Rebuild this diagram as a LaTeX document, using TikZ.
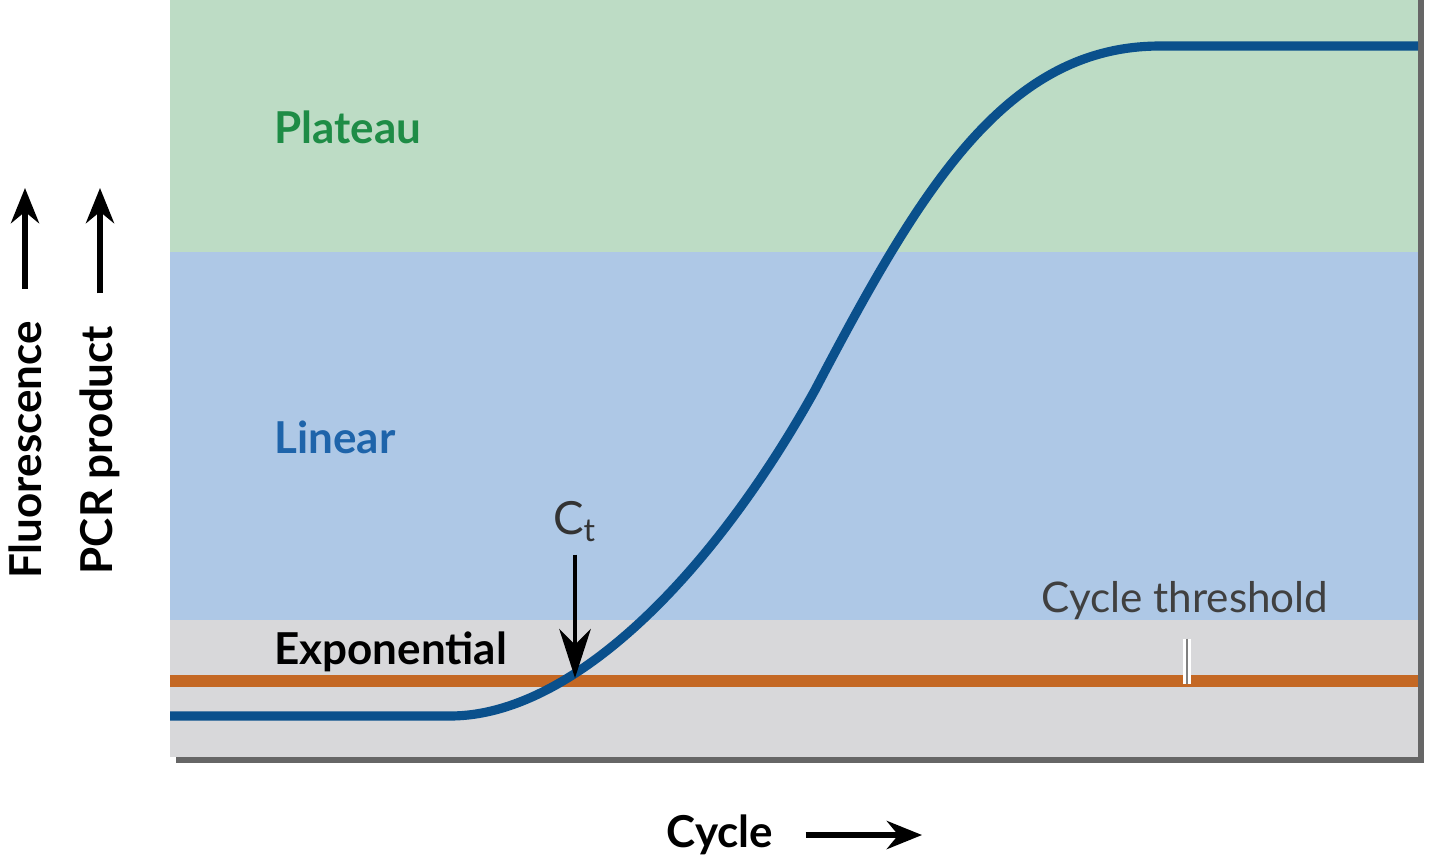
\documentclass[tikz,border=0pt]{standalone}
\usepackage{fontspec}
\setmainfont{Lato}
\usetikzlibrary{positioning,arrows.meta}
\definecolor{plateaugreen}{RGB}{189,220,197}
\definecolor{linearblue}{RGB}{174,200,230}
\definecolor{expgray}{RGB}{216,216,218}
\definecolor{curveblue}{RGB}{10,80,140}
\definecolor{threshorange}{RGB}{196,104,36}
\definecolor{labgreen}{RGB}{30,140,70}
\definecolor{labblue}{RGB}{30,100,170}
\tikzset{
  phase/.style={font=\fontsize{12.5}{15}\selectfont\bfseries, anchor=west},
  axislab/.style={font=\fontsize{12.5}{15}\selectfont\bfseries},
  axarrow/.style={-{Stealth[length=10pt,width=8pt]}, line width=1.6pt}
}
\begin{document}
\begin{tikzpicture}[x=0.01cm,y=-0.01cm]
    \useasboundingbox (0,0) rectangle (1440,866);
    %bands
    \fill[black!60] (176,0) rectangle (1424,763);
    \fill[plateaugreen] (170,0) rectangle (1418,252);
    \fill[linearblue] (170,252) rectangle (1418,620);
    \fill[expgray] (170,620) rectangle (1418,757);
    %phase labels
    \node[phase, text=labgreen] (plateau) at (262,127) {Plateau};
    \node[phase, text=labblue] (linear) at (262,437) {Linear};
    \node[phase] (expo) at (262,652) {Exponential};
    %threshold
    \coordinate (thL) at (170,681);
    \coordinate (thR) at (1418,681);
    \draw[threshorange, line width=3.4pt] (thL) -- (thR);
    \node[font=\fontsize{12}{14}\selectfont, text=black!75] (thlab) at (1185,601) {Cycle threshold};
    \coordinate (tick) at (1187,684);
    \draw[white, line width=2.2pt] (thlab.south -| tick) ++(0,6) -- (tick);
    \draw[black!50, line width=0.5pt] (thlab.south -| tick) ++(0,6) -- (tick);
    %curve
    \draw[curveblue, line width=2.6pt] (170,716) -- (450,716)
      .. controls (575,716) and (715,570) .. (815,390)
      .. controls (920,190) and (1005,46) .. (1160,46) -- (1418,46);
    %Ct
    \node[font=\fontsize{13}{15}\selectfont, text=black!80] (ct) at (575,522) {C\textsubscript{t}};
    \coordinate (cross) at (575,678);
    \draw[-{Stealth[length=14pt,width=9pt]}, line width=1pt] (ct.south) -- (cross);
    %axis labels
    \node[axislab, rotate=90] (fluo) at (25,450) {Fluorescence};
    \node[axislab, rotate=90] (pcr) at (100,450) {PCR product};
    \coordinate (fluotip) at (25,188);
    \coordinate (pcrtip) at (100,188);
    \draw[axarrow] (fluo.east) ++(0,-20) -- (fluotip);
    \draw[axarrow] (pcr.east) ++(0,-20) -- (pcrtip);
    \node[axislab] (cycle) at (720,835) {Cycle};
    \coordinate (cycletip) at (922,835);
    \draw[axarrow] (cycle.east) ++(20,0) -- (cycletip);
\end{tikzpicture}
\end{document}
